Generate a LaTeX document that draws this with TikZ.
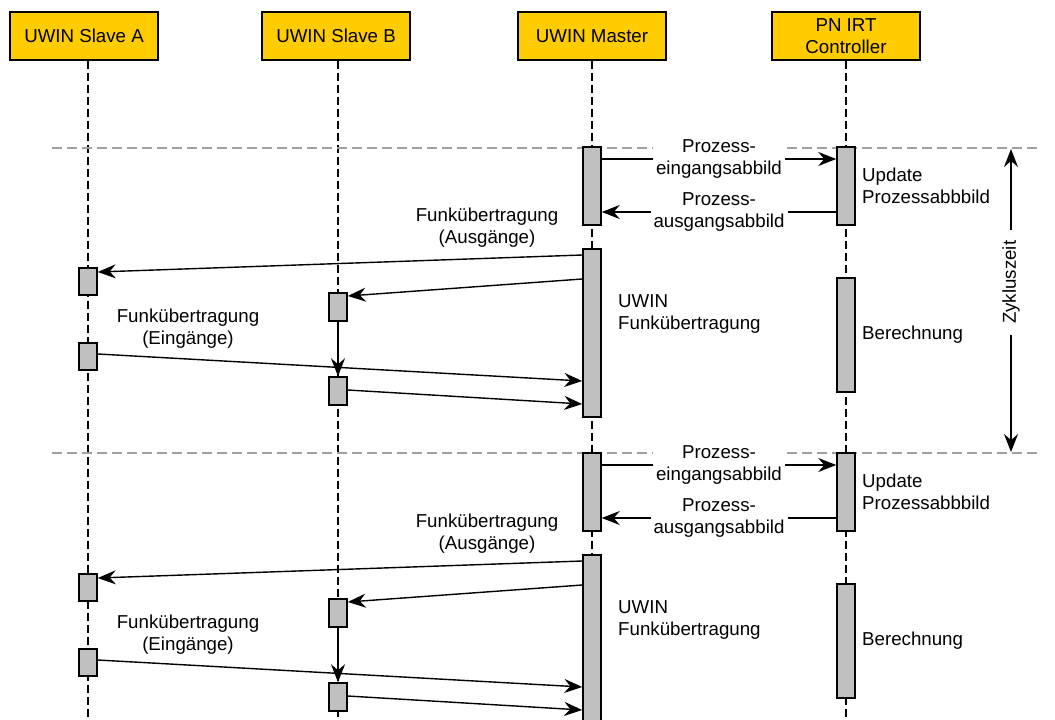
\documentclass[tikz,border=0pt]{standalone}
\usepackage{fontspec}
\setmainfont{Liberation Sans}
\usetikzlibrary{arrows.meta, positioning, calc}
\definecolor{hdryellow}{RGB}{255,204,0}
\definecolor{actgray}{RGB}{192,192,192}
\definecolor{cyclegray}{RGB}{160,160,160}

\begin{document}
\begin{tikzpicture}[x=1pt, y=-1pt,
    every node/.style={font=\fontsize{18.7}{22}\selectfont, inner sep=2pt},
    hdr/.style={draw, line width=1.5pt, fill=hdryellow, minimum width=148pt, minimum height=48pt, align=center},
    act/.style={draw, line width=1.5pt, fill=actgray, minimum width=18pt, inner sep=0pt},
    lifeline/.style={line width=1.2pt, dash pattern=on 8pt off 4pt},
    cycleline/.style={cyclegray, line width=1.3pt, dash pattern=on 10pt off 5pt},
    msg/.style={line width=1.4pt, -{Stealth[length=18pt, width=14pt, inset=6pt]}},
    lbl/.style={fill=white, align=center, inner sep=3pt}]
    \useasboundingbox (0,0) rectangle (1055,720);

    % Participants
    \node[hdr] (hA) at (84,36) {UWIN Slave A};
    \node[hdr] (hB) at (336,36) {UWIN Slave B};
    \node[hdr] (hM) at (592,36) {UWIN Master};
    \node[hdr] (hP) at (846,36) {PN IRT\\Controller};

    % Lifelines
    \draw[lifeline] (hA.south -| 88,0) -- (88,720);
    \draw[lifeline] (hB.south -| 338,0) -- (338,720);
    \draw[lifeline] (hM.south) -- (592,720);
    \draw[lifeline] (hP.south) -- (846,720);

    % Cycle borders
    \draw[cycleline] (52,148) -- (1040,148);
    \draw[cycleline] (52,453) -- (1040,453);

    % Cycle 1
    \node[act, minimum height=78pt] (m1) at (592,186) {};
    \node[act, minimum height=78pt] (p1) at (846,186) {};
    \node[act, minimum height=168pt] (m2) at (592,333) {};
    \node[act, minimum height=114pt] (p2) at (846,335) {};
    \node[act, minimum height=27pt] (a1) at (88,281.5) {};
    \node[act, minimum height=27pt] (a2) at (88,356.5) {};
    \node[act, minimum height=28pt] (b1) at (338,307) {};
    \node[act, minimum height=28pt] (b2) at (338,391) {};

    \draw[msg] (m1.east |- 0,159) -- node[lbl] {Prozess-\\eingangsabbild} (p1.west |- 0,159);
    \draw[msg] (p1.west |- 0,212) -- node[lbl] {Prozess-\\ausgangsabbild} (m1.east |- 0,212);
    \draw[msg] (m2.west |- 0,255) -- (a1.east |- 0,272);
    \draw[msg] (m2.west |- 0,279) -- (b1.east |- 0,296);
    \draw[msg] (b1.south) -- (b2.north);
    \draw[msg] (a2.east |- 0,354) -- (m2.west |- 0,381);
    \draw[msg] (b2.east |- 0,390) -- (m2.west |- 0,404);

    \node[align=center] (tA1) at (487,228) {Funkübertragung\\(Ausgänge)};
    \node[align=center] (tE1) at (188,329) {Funkübertragung\\(Eingänge)};
    \node[align=left, anchor=west] (tU1) at (616,314) {UWIN\\Funkübertragung};
    \node[align=left, anchor=west] (tP1) at (860,186) {Update\\Prozessabbbild};
    \node[anchor=west] (tB1) at (860,335) {Berechnung};

    % Cycle 2
    \node[act, minimum height=78pt] (m3) at (592,492) {};
    \node[act, minimum height=78pt] (p3) at (846,492) {};
    \node[act, minimum height=168pt] (m4) at (592,639) {};
    \node[act, minimum height=114pt] (p4) at (846,641) {};
    \node[act, minimum height=27pt] (a3) at (88,587.5) {};
    \node[act, minimum height=27pt] (a4) at (88,662.5) {};
    \node[act, minimum height=28pt] (b3) at (338,613) {};
    \node[act, minimum height=28pt] (b4) at (338,697) {};

    \draw[msg] (m3.east |- 0,465) -- node[lbl] {Prozess-\\eingangsabbild} (p3.west |- 0,465);
    \draw[msg] (p3.west |- 0,518) -- node[lbl] {Prozess-\\ausgangsabbild} (m3.east |- 0,518);
    \draw[msg] (m4.west |- 0,561) -- (a3.east |- 0,578);
    \draw[msg] (m4.west |- 0,585) -- (b3.east |- 0,602);
    \draw[msg] (b3.south) -- (b4.north);
    \draw[msg] (a4.east |- 0,660) -- (m4.west |- 0,687);
    \draw[msg] (b4.east |- 0,696) -- (m4.west |- 0,710);

    \node[align=center] (tA2) at (487,534) {Funkübertragung\\(Ausgänge)};
    \node[align=center] (tE2) at (188,635) {Funkübertragung\\(Eingänge)};
    \node[align=left, anchor=west] (tU2) at (616,620) {UWIN\\Funkübertragung};
    \node[align=left, anchor=west] (tP2) at (860,492) {Update\\Prozessabbbild};
    \node[anchor=west] (tB2) at (860,641) {Berechnung};

    % Cycle time
    \coordinate (z1) at (1011,149);
    \coordinate (z2) at (1011,452);
    \draw[msg, {Stealth[length=18pt, width=14pt, inset=6pt]}-{Stealth[length=18pt, width=14pt, inset=6pt]}]
        (z1) -- node[pos=0.44, rotate=90, fill=white, inner sep=11pt] {Zykluszeit} (z2);
\end{tikzpicture}
\end{document}
